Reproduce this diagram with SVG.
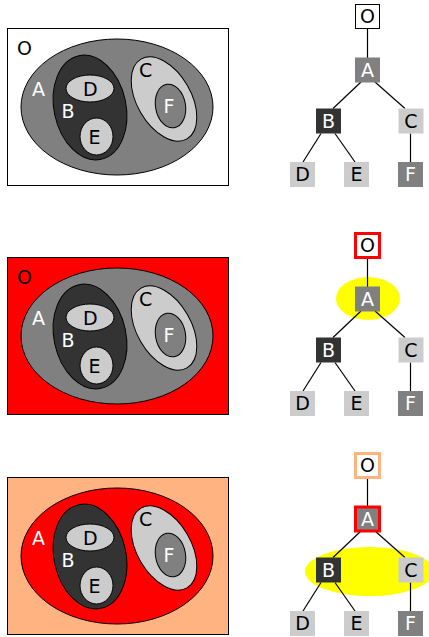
<svg xmlns="http://www.w3.org/2000/svg" width="429" height="637" viewBox="0 0 429 637">
<style>
text{font-family:"DejaVu Sans","Liberation Sans",sans-serif;font-size:19px}
.k{fill:#000}.w{fill:#fff}
.st{stroke:#000;stroke-width:1}
.gA{fill:#808080}.gB{fill:#333333}.gC{fill:#cccccc}
.mid{text-anchor:middle}
.con line{stroke:#000;stroke-width:1.2}
</style>
<rect width="429" height="637" fill="#fff"/>

<!-- Panel 1 -->
<g id="venn1">
  <g id="v1-O"><rect x="7.5" y="28.5" width="221" height="157" fill="#fff" class="st"/><text x="17" y="55" class="k">O</text></g>
  <g id="v1-A"><ellipse cx="117" cy="107" rx="96" ry="68" class="gA st"/><text x="32" y="96" class="w">A</text></g>
  <g id="v1-B"><ellipse cx="90" cy="107.5" rx="36" ry="53" transform="rotate(-12 90 107.5)" class="gB st"/><text x="61.5" y="118" class="w">B</text></g>
  <g id="v1-D"><ellipse cx="90" cy="88.5" rx="24" ry="13.5" class="gC st"/><text x="83" y="95.5" class="k">D</text></g>
  <g id="v1-E"><ellipse cx="96.5" cy="136.5" rx="16.5" ry="18.5" class="gC st"/><text x="88.5" y="144" class="k">E</text></g>
  <g id="v1-C"><ellipse cx="164" cy="99" rx="27" ry="46" transform="rotate(-30 164 99)" class="gC st"/><text x="139" y="77" class="k">C</text></g>
  <g id="v1-F"><ellipse cx="170.5" cy="106" rx="15" ry="22" transform="rotate(-10 170.5 106)" class="gA st"/><text x="163.5" y="113" class="w">F</text></g>
</g>
<g id="tree1">
  <g class="con" id="t1-connectors">
    <line x1="367.5" y1="29" x2="367.5" y2="58"/>
    <line x1="361" y1="82" x2="333" y2="108.5"/>
    <line x1="375" y1="82" x2="405" y2="108.5"/>
    <line x1="321" y1="133.5" x2="303" y2="162"/>
    <line x1="335" y1="133.5" x2="355" y2="162"/>
    <line x1="410.5" y1="133.5" x2="410.5" y2="162"/>
  </g>
  <g id="t1-O"><rect x="355.5" y="4.5" width="24" height="24" fill="#fff" class="st"/><text x="367.5" y="23.4" class="k mid">O</text></g>
  <g id="t1-A"><rect x="355" y="57.5" width="25" height="25" class="gA"/><text x="367.5" y="76.9" class="w mid">A</text></g>
  <g id="t1-B"><rect x="316" y="108.5" width="25" height="25" class="gB"/><text x="328.5" y="127.9" class="w mid">B</text></g>
  <g id="t1-C"><rect x="398.5" y="108.5" width="25" height="25" class="gC"/><text x="411" y="127.9" class="k mid">C</text></g>
  <g id="t1-D"><rect x="290" y="162" width="25" height="25" class="gC"/><text x="302.5" y="181.4" class="k mid">D</text></g>
  <g id="t1-E"><rect x="344" y="162" width="25" height="25" class="gC"/><text x="356.5" y="181.4" class="k mid">E</text></g>
  <g id="t1-F"><rect x="398" y="162" width="25" height="25" class="gA"/><text x="410.5" y="181.4" class="w mid">F</text></g>
</g>

<!-- Panel 2 -->
<g id="venn2" transform="translate(0 229)">
  <g id="v2-O"><rect x="7.5" y="28.5" width="221" height="157" fill="#ff0000" class="st"/><text x="17" y="55" class="k">O</text></g>
  <g id="v2-A"><ellipse cx="117" cy="107" rx="96" ry="68" class="gA st"/><text x="32" y="96" class="w">A</text></g>
  <g id="v2-B"><ellipse cx="90" cy="107.5" rx="36" ry="53" transform="rotate(-12 90 107.5)" class="gB st"/><text x="61.5" y="118" class="w">B</text></g>
  <g id="v2-D"><ellipse cx="90" cy="88.5" rx="24" ry="13.5" class="gC st"/><text x="83" y="95.5" class="k">D</text></g>
  <g id="v2-E"><ellipse cx="96.5" cy="136.5" rx="16.5" ry="18.5" class="gC st"/><text x="88.5" y="144" class="k">E</text></g>
  <g id="v2-C"><ellipse cx="164" cy="99" rx="27" ry="46" transform="rotate(-30 164 99)" class="gC st"/><text x="139" y="77" class="k">C</text></g>
  <g id="v2-F"><ellipse cx="170.5" cy="106" rx="15" ry="22" transform="rotate(-10 170.5 106)" class="gA st"/><text x="163.5" y="113" class="w">F</text></g>
</g>
<g id="tree2" transform="translate(0 229)">
  <ellipse id="t2-highlight" cx="368" cy="69.5" rx="32" ry="21.5" fill="#ffff00"/>
  <g class="con" id="t2-connectors">
    <line x1="367.5" y1="29" x2="367.5" y2="58"/>
    <line x1="361" y1="82" x2="333" y2="108.5"/>
    <line x1="375" y1="82" x2="405" y2="108.5"/>
    <line x1="321" y1="133.5" x2="303" y2="162"/>
    <line x1="335" y1="133.5" x2="355" y2="162"/>
    <line x1="410.5" y1="133.5" x2="410.5" y2="162"/>
  </g>
  <g id="t2-O"><rect x="355.5" y="4.5" width="24" height="24" fill="#fff" stroke="#ff0000" stroke-width="3"/><text x="367.5" y="23.4" class="k mid">O</text></g>
  <g id="t2-A"><rect x="355" y="57.5" width="25" height="25" class="gA"/><text x="367.5" y="76.9" class="w mid">A</text></g>
  <g id="t2-B"><rect x="316" y="108.5" width="25" height="25" class="gB"/><text x="328.5" y="127.9" class="w mid">B</text></g>
  <g id="t2-C"><rect x="398.5" y="108.5" width="25" height="25" class="gC"/><text x="411" y="127.9" class="k mid">C</text></g>
  <g id="t2-D"><rect x="290" y="162" width="25" height="25" class="gC"/><text x="302.5" y="181.4" class="k mid">D</text></g>
  <g id="t2-E"><rect x="344" y="162" width="25" height="25" class="gC"/><text x="356.5" y="181.4" class="k mid">E</text></g>
  <g id="t2-F"><rect x="398" y="162" width="25" height="25" class="gA"/><text x="410.5" y="181.4" class="w mid">F</text></g>
</g>

<!-- Panel 3 -->
<g id="venn3" transform="translate(0 449)">
  <g id="v3-O"><rect x="7.5" y="28.5" width="221" height="157" fill="#ffb380" class="st"/></g>
  <g id="v3-A"><ellipse cx="117" cy="107" rx="96" ry="68" fill="#ff0000" class="st"/><text x="32" y="96" class="w">A</text></g>
  <g id="v3-B"><ellipse cx="90" cy="107.5" rx="36" ry="53" transform="rotate(-12 90 107.5)" class="gB st"/><text x="61.5" y="118" class="w">B</text></g>
  <g id="v3-D"><ellipse cx="90" cy="88.5" rx="24" ry="13.5" class="gC st"/><text x="83" y="95.5" class="k">D</text></g>
  <g id="v3-E"><ellipse cx="96.5" cy="136.5" rx="16.5" ry="18.5" class="gC st"/><text x="88.5" y="144" class="k">E</text></g>
  <g id="v3-C"><ellipse cx="164" cy="99" rx="27" ry="46" transform="rotate(-30 164 99)" class="gC st"/><text x="139" y="77" class="k">C</text></g>
  <g id="v3-F"><ellipse cx="170.5" cy="106" rx="15" ry="22" transform="rotate(-10 170.5 106)" class="gA st"/><text x="163.5" y="113" class="w">F</text></g>
</g>
<g id="tree3" transform="translate(0 449)">
  <ellipse id="t3-highlight" cx="369.5" cy="122.5" rx="64.5" ry="24.5" fill="#ffff00"/>
  <g class="con" id="t3-connectors">
    <line x1="367.5" y1="29" x2="367.5" y2="58"/>
    <line x1="361" y1="82" x2="333" y2="108.5"/>
    <line x1="375" y1="82" x2="405" y2="108.5"/>
    <line x1="321" y1="133.5" x2="303" y2="162"/>
    <line x1="335" y1="133.5" x2="355" y2="162"/>
    <line x1="410.5" y1="133.5" x2="410.5" y2="162"/>
  </g>
  <g id="t3-O"><rect x="355.5" y="4.5" width="24" height="24" fill="#fff" stroke="#ffb380" stroke-width="3"/><text x="367.5" y="23.4" class="k mid">O</text></g>
  <g id="t3-A"><rect x="355.5" y="58" width="24" height="24" class="gA" stroke="#ff0000" stroke-width="3"/><text x="367.5" y="76.9" class="w mid">A</text></g>
  <g id="t3-B"><rect x="316" y="108.5" width="25" height="25" class="gB"/><text x="328.5" y="127.9" class="w mid">B</text></g>
  <g id="t3-C"><rect x="398.5" y="108.5" width="25" height="25" class="gC"/><text x="411" y="127.9" class="k mid">C</text></g>
  <g id="t3-D"><rect x="290" y="162" width="25" height="25" class="gC"/><text x="302.5" y="181.4" class="k mid">D</text></g>
  <g id="t3-E"><rect x="344" y="162" width="25" height="25" class="gC"/><text x="356.5" y="181.4" class="k mid">E</text></g>
  <g id="t3-F"><rect x="398" y="162" width="25" height="25" class="gA"/><text x="410.5" y="181.4" class="w mid">F</text></g>
</g>
</svg>
